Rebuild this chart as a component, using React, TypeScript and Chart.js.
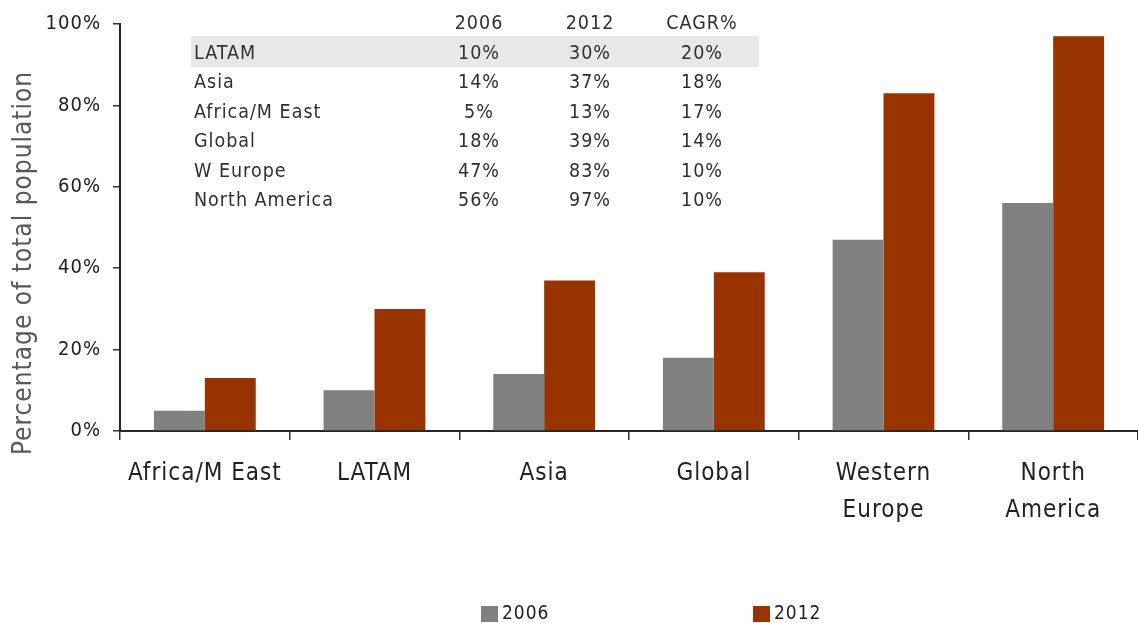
import React, { useEffect, useRef } from 'react';
import { Chart, registerables } from 'chart.js';

Chart.register(...registerables);

const categories: string[][] = [['Africa/M East'], ['LATAM'], ['Asia'], ['Global'], ['Western', 'Europe'], ['North', 'America']];
const values2006 = [5, 10, 14, 18, 47, 56];
const values2012 = [13, 30, 37, 39, 83, 97];
const seriesNames = ['2006', '2012'];
const seriesColors = ['#808080', '#993300'];
const yTickStep = 20;
const yMax = 100;
const yTitle = 'Percentage of total population';

const tableHeader = ['2006', '2012', 'CAGR%'];
const tableRegions = ['LATAM', 'Asia', 'Africa/M East', 'Global', 'W Europe', 'North America'];
const table2006 = ['10%', '14%', '5%', '18%', '47%', '56%'];
const table2012 = ['30%', '37%', '13%', '39%', '83%', '97%'];
const tableCagr = ['20%', '18%', '17%', '14%', '10%', '10%'];

const FONT = '"DejaVu Sans Condensed", "DejaVu Sans", Verdana, sans-serif';
const TEXT = '#222222';

const spacingPlugin = {
  id: 'spacing',
  beforeUpdate(chart: any) { chart.ctx.letterSpacing = '1px'; },
  beforeDraw(chart: any) { chart.ctx.letterSpacing = '1px'; },
};

const titlePlugin = {
  id: 'yTitle',
  afterDraw(chart: any) {
    const ctx = chart.ctx as CanvasRenderingContext2D;
    ctx.save();
    ctx.letterSpacing = '1px';
    ctx.font = `26px ${FONT}`;
    ctx.fillStyle = '#595959';
    ctx.textAlign = 'center';
    ctx.textBaseline = 'middle';
    ctx.translate(24, 263);
    ctx.rotate(-Math.PI / 2);
    ctx.fillText(yTitle, 0, 0);
    ctx.restore();
  },
};

const tablePlugin = {
  id: 'table',
  beforeDatasetsDraw(chart: any) {
    const ctx = chart.ctx as CanvasRenderingContext2D;
    ctx.save();
    ctx.letterSpacing = '1px';
    ctx.fillStyle = '#e8e8e8';
    ctx.fillRect(191, 36, 568, 31);
    ctx.font = `19.5px ${FONT}`;
    ctx.fillStyle = '#303030';
    ctx.textBaseline = 'middle';
    const colX = [479, 590, 702];
    const rowY0 = 24;
    const rowH = 29.5;
    ctx.textAlign = 'center';
    tableHeader.forEach((h, i) => ctx.fillText(h, colX[i], rowY0));
    tableRegions.forEach((r, j) => {
      const y = rowY0 + rowH * (j + 1);
      ctx.textAlign = 'left';
      ctx.fillText(r, 194, y);
      ctx.textAlign = 'center';
      ctx.fillText(table2006[j], colX[0], y);
      ctx.fillText(table2012[j], colX[1], y);
      ctx.fillText(tableCagr[j], colX[2], y);
    });
    ctx.restore();
  },
};

const legendPlugin = {
  id: 'customLegend',
  afterDraw(chart: any) {
    const ctx = chart.ctx as CanvasRenderingContext2D;
    ctx.save();
    ctx.letterSpacing = '1px';
    ctx.font = `19px ${FONT}`;
    ctx.textBaseline = 'middle';
    ctx.textAlign = 'left';
    const xs = [481, 753];
    chart.data.datasets.forEach((ds: any, i: number) => {
      ctx.fillStyle = ds.backgroundColor;
      ctx.fillRect(xs[i], 606, 17, 16);
      ctx.fillStyle = TEXT;
      ctx.fillText(ds.label, xs[i] + 21, 614);
    });
    ctx.restore();
  },
};

export default function App() {
  const ref = useRef<HTMLCanvasElement>(null);
  useEffect(() => {
    document.body.style.margin = '0';
    const chart = new Chart(ref.current!, {
      type: 'bar',
      data: {
        labels: categories,
        datasets: [
          { label: seriesNames[0], data: values2006, backgroundColor: seriesColors[0] },
          { label: seriesNames[1], data: values2012, backgroundColor: seriesColors[1] },
        ],
      },
      options: {
        responsive: false,
        animation: false,
        devicePixelRatio: 1,
        layout: { padding: { top: 23, left: 0, right: 0, bottom: 0 } },
        datasets: { bar: { categoryPercentage: 0.6, barPercentage: 1 } },
        plugins: { legend: { display: false }, tooltip: { enabled: false } },
        scales: {
          x: {
            grid: { drawOnChartArea: false, drawTicks: true, tickLength: 9, offset: true, color: '#333', lineWidth: 1.5 },
            border: { display: true, color: '#262626', width: 2 },
            ticks: { color: TEXT, font: { family: FONT, size: 24, lineHeight: 1.52 }, padding: 16, maxRotation: 0, autoSkip: false },
            afterFit: (s: any) => { s.height = 192; },
          },
          y: {
            min: 0,
            max: yMax,
            grid: { drawOnChartArea: false, drawTicks: true, tickLength: 7, color: '#333', lineWidth: 1.5 },
            border: { display: true, color: '#262626', width: 2 },
            ticks: { stepSize: yTickStep, color: TEXT, font: { family: FONT, size: 20 }, padding: 12, callback: (v: any) => v + '%' },
            title: { display: false },
            afterFit: (s: any) => { s.width = 120; },
          },
        },
      },
      plugins: [spacingPlugin, tablePlugin, legendPlugin, titlePlugin],
    });
    return () => chart.destroy();
  }, []);
  return (
    <div style={{ width: 1138, height: 623 }}>
      <canvas ref={ref} width={1138} height={623} />
    </div>
  );
}
